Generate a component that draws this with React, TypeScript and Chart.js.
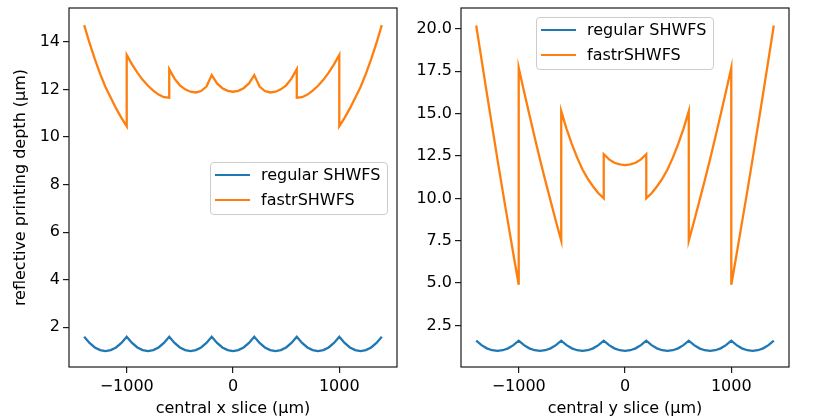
import React, { useEffect, useRef } from 'react';
import { Chart, registerables } from 'chart.js';

Chart.register(...registerables);

// ---------------- data ----------------
const seriesLabels = ['regular SHWFS', 'fastrSHWFS'];
const seriesColors = ['#1f77b4', '#ff7f0e'];

const regularPositions = [
  -1400, -1350, -1300, -1250, -1200, -1150, -1100, -1050, -1000, -950, -900, -850, -800, -750,
  -700, -650, -600, -550, -500, -450, -400, -350, -300, -250, -200, -150, -100, -50, 0,
  50, 100, 150, 200, 250, 300, 350, 400, 450, 500, 550, 600, 650, 700, 750,
  800, 850, 900, 950, 1000, 1050, 1100, 1150, 1200, 1250, 1300, 1350, 1400,
];
const regularDepth = [
  1.6, 1.34, 1.15, 1.04, 1.0, 1.04, 1.15, 1.34, 1.6, 1.34, 1.15, 1.04, 1.0, 1.04,
  1.15, 1.34, 1.6, 1.34, 1.15, 1.04, 1.0, 1.04, 1.15, 1.34, 1.6, 1.34, 1.15, 1.04, 1.0,
  1.04, 1.15, 1.34, 1.6, 1.34, 1.15, 1.04, 1.0, 1.04, 1.15, 1.34, 1.6, 1.34, 1.15, 1.04,
  1.0, 1.04, 1.15, 1.34, 1.6, 1.34, 1.15, 1.04, 1.0, 1.04, 1.15, 1.34, 1.6,
];

const xSlicePositions = [
  -1400, -1350, -1300, -1250, -1200, -1150, -1100, -1050, -1000,
  -1000, -950, -900, -850, -800, -750, -700, -650, -600,
  -600, -550, -500, -450, -400, -350, -300, -250, -200, -150, -100, -50, 0,
  50, 100, 150, 200, 250, 300, 350, 400, 450, 500, 550, 600,
  600, 650, 700, 750, 800, 850, 900, 950, 1000,
  1000, 1050, 1100, 1150, 1200, 1250, 1300, 1350, 1400,
];
const xSliceFastr = [
  14.7, 13.95, 13.27, 12.65, 12.1, 11.65, 11.2, 10.8, 10.45,
  13.45, 13.05, 12.7, 12.4, 12.15, 11.95, 11.78, 11.67, 11.65,
  12.85, 12.45, 12.17, 12.0, 11.9, 11.87, 11.93, 12.12, 12.6, 12.25, 12.05, 11.94, 11.9,
  11.94, 12.05, 12.25, 12.6, 12.12, 11.93, 11.87, 11.9, 12.0, 12.17, 12.45, 12.85,
  11.65, 11.67, 11.78, 11.95, 12.15, 12.4, 12.7, 13.05, 13.45,
  10.45, 10.8, 11.2, 11.65, 12.1, 12.65, 13.27, 13.95, 14.7,
];

const ySlicePositions = [
  -1400, -1350, -1300, -1250, -1200, -1150, -1100, -1050, -1000,
  -1000, -950, -900, -850, -800, -750, -700, -650, -600,
  -600, -550, -500, -450, -400, -350, -300, -250, -200,
  -200, -150, -100, -50, 0, 50, 100, 150, 200,
  200, 250, 300, 350, 400, 450, 500, 550, 600,
  600, 650, 700, 750, 800, 850, 900, 950, 1000,
  1000, 1050, 1100, 1150, 1200, 1250, 1300, 1350, 1400,
];
const ySliceFastr = [
  20.2, 18.2, 16.2, 14.25, 12.3, 10.4, 8.55, 6.7, 4.9,
  17.7, 16.3, 14.95, 13.6, 12.3, 11.05, 9.85, 8.65, 7.5,
  15.15, 14.1, 13.2, 12.4, 11.7, 11.15, 10.7, 10.3, 10.0,
  12.6, 12.3, 12.1, 12.0, 11.96, 12.0, 12.1, 12.3, 12.6,
  10.0, 10.3, 10.7, 11.15, 11.7, 12.4, 13.2, 14.1, 15.15,
  7.5, 8.65, 9.85, 11.05, 12.3, 13.6, 14.95, 16.3, 17.7,
  4.9, 6.7, 8.55, 10.4, 12.3, 14.25, 16.2, 18.2, 20.2,
];

const xTickValues = [-1000, 0, 1000];
const leftYTicks = [2, 4, 6, 8, 10, 12, 14];
const rightYTicks = [2.5, 5.0, 7.5, 10.0, 12.5, 15.0, 17.5, 20.0];

const xTitleLeft = 'central x slice (μm)';
const xTitleRight = 'central y slice (μm)';
const yTitle = 'reflective printing depth (μm)';

// ---------------- helpers ----------------
const FONT = '"DejaVu Sans", Verdana, sans-serif';

const zip = (xs: number[], ys: number[]) => xs.map((x, i) => ({ x, y: ys[i] }));

const framePlugin = {
  id: 'frame',
  afterDraw(chart: any) {
    const { ctx, chartArea } = chart;
    const { left, top, right, bottom } = chartArea;
    ctx.save();
    ctx.strokeStyle = '#1a1a1a';
    ctx.lineWidth = 1.2;
    ctx.strokeRect(left, top, right - left, bottom - top);
    ctx.restore();
  },
};

type PanelProps = {
  canvasLeft: number;
  canvasWidth: number;
  yAxisWidth: number;
  padRight: number;
  fastrPositions: number[];
  fastrValues: number[];
  yMin: number;
  yMax: number;
  yTicks: number[];
  decimals: boolean;
  xTitle: string;
  yTitleText: string | null;
};

function Panel(p: PanelProps) {
  const ref = useRef<HTMLCanvasElement | null>(null);
  useEffect(() => {
    if (!ref.current) return;
    const chart = new Chart(ref.current, {
      type: 'line',
      data: {
        datasets: [
          {
            label: seriesLabels[0],
            data: zip(regularPositions, regularDepth),
            borderColor: seriesColors[0],
            backgroundColor: seriesColors[0],
            borderWidth: 2.3,
            pointRadius: 0,
            tension: 0,
            fill: false,
          },
          {
            label: seriesLabels[1],
            data: zip(p.fastrPositions, p.fastrValues),
            borderColor: seriesColors[1],
            backgroundColor: seriesColors[1],
            borderWidth: 2.3,
            pointRadius: 0,
            tension: 0,
            fill: false,
          },
        ],
      },
      options: {
        responsive: false,
        animation: false,
        devicePixelRatio: 1,
        layout: { padding: { left: 0, right: p.padRight, top: 8, bottom: 0 } },
        plugins: { legend: { display: false }, tooltip: { enabled: false } },
        scales: {
          x: {
            type: 'linear',
            min: -1543,
            max: 1543,
            afterBuildTicks: (s: any) => {
              s.ticks = xTickValues.map((v) => ({ value: v }));
            },
            afterFit: (s: any) => {
              s.height = 51;
              s.paddingLeft = 0;
              s.paddingRight = 0;
            },
            ticks: {
              color: '#000',
              font: { family: FONT, size: 16 },
              padding: 4,
              maxRotation: 0,
              autoSkip: false,
              callback: (v: any) => (Number(v) < 0 ? '\u2212' + Math.abs(Number(v)) : String(v)),
            },
            grid: { display: true, drawOnChartArea: false, drawTicks: true, tickLength: 6, color: '#1a1a1a', lineWidth: 1.2 },
            border: { display: false },
            title: {
              display: true,
              text: p.xTitle,
              color: '#000',
              font: { family: FONT, size: 16 },
              padding: { top: 0, bottom: 0 },
            },
          },
          y: {
            type: 'linear',
            min: p.yMin,
            max: p.yMax,
            afterBuildTicks: (s: any) => {
              s.ticks = p.yTicks.map((v) => ({ value: v }));
            },
            afterFit: (s: any) => {
              s.width = p.yAxisWidth;
              s.paddingTop = 0;
              s.paddingBottom = 0;
            },
            ticks: {
              color: '#000',
              font: { family: FONT, size: 16 },
              padding: 3,
              autoSkip: false,
              callback: (v: any) => (p.decimals ? Number(v).toFixed(1) : String(v)),
            },
            grid: { display: true, drawOnChartArea: false, drawTicks: true, tickLength: 6, color: '#1a1a1a', lineWidth: 1.2 },
            border: { display: false },
            title: {
              display: !!p.yTitleText,
              text: p.yTitleText || '',
              color: '#000',
              font: { family: FONT, size: 16 },
              padding: { top: 11, bottom: 0 },
            },
          },
        },
      },
      plugins: [framePlugin],
    } as any);
    return () => chart.destroy();
  }, []);
  return (
    <canvas
      ref={ref}
      width={p.canvasWidth}
      height={418}
      style={{ position: 'absolute', left: p.canvasLeft, top: 0, width: p.canvasWidth, height: 418, display: 'block' }}
    />
  );
}

function LegendBox({ left, top }: { left: number; top: number }) {
  return (
    <div
      style={{
        position: 'absolute',
        left,
        top,
        width: 178,
        height: 53,
        boxSizing: 'border-box',
        border: '1px solid #cccccc',
        borderRadius: 4,
        background: 'rgba(255,255,255,0.8)',
      }}
    >
      {seriesLabels.map((label, i) => (
        <React.Fragment key={label}>
          <div
            style={{
              position: 'absolute',
              left: 4,
              top: 12 + 25 * i - 1.2,
              width: 35,
              height: 2.4,
              background: seriesColors[i],
            }}
          />
          <div
            style={{
              position: 'absolute',
              left: 50,
              top: 12 + 25 * i - 8,
              fontFamily: FONT,
              fontSize: 16,
              lineHeight: '16px',
              whiteSpace: 'nowrap',
              color: '#000',
            }}
          >
            {label}
          </div>
        </React.Fragment>
      ))}
    </div>
  );
}

export default function App() {
  return (
    <div style={{ position: 'fixed', left: 0, top: 0, width: 840, height: 418, background: '#fff', overflow: 'hidden' }}>
      <Panel
        canvasLeft={0}
        canvasWidth={405}
        yAxisWidth={69}
        padRight={8}
        fastrPositions={xSlicePositions}
        fastrValues={xSliceFastr}
        yMin={0.33}
        yMax={15.42}
        yTicks={leftYTicks}
        decimals={false}
        xTitle={xTitleLeft}
        yTitleText={yTitle}
      />
      <Panel
        canvasLeft={405}
        canvasWidth={435}
        yAxisWidth={56}
        padRight={51}
        fastrPositions={ySlicePositions}
        fastrValues={ySliceFastr}
        yMin={0.05}
        yMax={21.23}
        yTicks={rightYTicks}
        decimals={true}
        xTitle={xTitleRight}
        yTitleText={null}
      />
      <LegendBox left={210} top={162} />
      <LegendBox left={536} top={17} />
    </div>
  );
}
